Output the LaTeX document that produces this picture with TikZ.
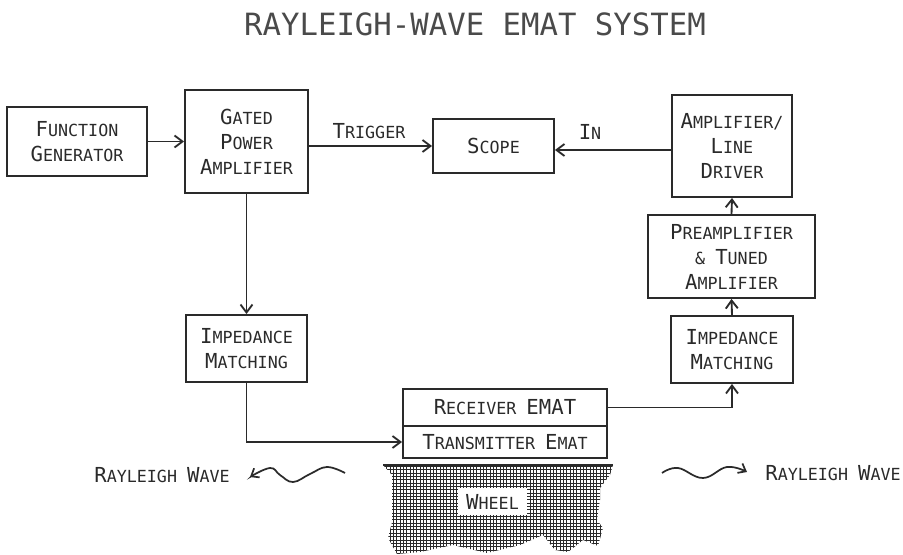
\documentclass[tikz,border=0pt]{standalone}
\usepackage{fontspec}
\setmainfont{DejaVu Sans Mono}
\usetikzlibrary{arrows.meta}
\definecolor{ink}{HTML}{2A2A2A}
\newcommand\B[1]{{\fontsize{15.5}{18.75}\selectfont #1}}
\begin{document}
\begin{tikzpicture}[x=0.75pt,y=-0.75pt,
  every node/.style={text=ink},
  lbl/.style={font=\fontsize{12.5}{18.75}\selectfont, align=center, inner sep=0pt},
  box/.style={lbl, draw=ink, line width=1.4pt},
  arr/.style={draw=ink, line width=1.4pt, -{Straight Barb[length=6pt,width=9pt,line width=1.4pt]}},
  wave/.style={draw=ink, line width=1.3pt, -{Straight Barb[length=5pt,width=8pt,line width=1.3pt]}}]
\useasboundingbox (0,0) rectangle (903,555);

\node[font=\fontsize{23}{26}\selectfont, text=ink!85, inner sep=0pt] (title) at (475,24) {RAYLEIGH-WAVE EMAT SYSTEM};

\node[box, minimum width=105pt, minimum height=51.75pt] (fg) at (77,141.5) {\B{F}UNCTION\\\B{G}ENERATOR};
\node[box, minimum width=92.25pt, minimum height=77.25pt] (gpa) at (246.5,141.5) {\B{G}ATED\\\B{P}OWER\\\B{A}MPLIFIER};
\node[box, minimum width=90.75pt, minimum height=40.5pt] (scope) at (493.5,146) {\B{S}COPE};
\node[box, minimum width=90pt, minimum height=76.5pt] (ld) at (732,146) {\B{A}MPLIFIER/\\\B{L}INE\\\B{D}RIVER};
\node[box, minimum width=125.25pt, minimum height=62.25pt] (pre) at (731.5,256.5) {\B{P}REAMPLIFIER\\\& \B{T}UNED\\\B{A}MPLIFIER};
\node[box, minimum width=91.5pt, minimum height=50.25pt] (imr) at (732,349.5) {\B{I}MPEDANCE\\\B{M}ATCHING};
\node[box, minimum width=90.75pt, minimum height=50.25pt] (iml) at (246.5,348.5) {\B{I}MPEDANCE\\\B{M}ATCHING};
\node[box, minimum width=153pt, minimum height=27.75pt] (rcv) at (505,407.5) {\B{R}ECEIVER \B{EMAT}};
\node[box, minimum width=153pt, minimum height=24pt] (tx) at (505,442) {\B{T}RANSMITTER \B{E}MAT};

% wheel
\begin{scope}
\clip (383,465) -- (613,465) -- (610,475) -- (600,488) -- (600,500) -- (597,520) -- (603,528) -- (598,546) -- (583,540) -- (568,552) -- (555,550) -- (543,535) -- (520,545) -- (487,553) -- (453,545) -- (420,552) -- (397,554) -- (388,538) -- (392,522) -- (392,475) -- cycle;
\draw[ink, line width=0.75pt, step=2.5pt] (380,462) grid (616,558);
\end{scope}
\draw[ink, line width=1.3pt] (383,465) -- (613,465);
\node[lbl, fill=white, minimum width=51.75pt, minimum height=20.25pt] (wheel) at (492.5,501.5) {\B{W}HEEL};

% connectors
\draw[arr] (fg.east) -- (gpa.west);
\draw[arr] (gpa.east |- scope.west) -- (scope.west);
\draw[arr] ([yshift=-3pt]ld.west) -- ([yshift=-3pt]scope.east);
\draw[arr] (gpa.south) -- (iml.north);
\draw[arr] (iml.south) |- (tx.west);
\draw[arr] (rcv.east) -| (imr.south);
\draw[arr] (imr.north) -- (pre.south);
\draw[arr] (pre.north) -- (ld.south);

\node[lbl] (trig) at (369,131) {\B{T}RIGGER};
\node[lbl] (in) at (590,132) {\B{I}N};

% Rayleigh waves
\node[lbl] (rwl) at (162,475) {\B{R}AYLEIGH \B{W}AVE};
\node[lbl] (rwr) at (833,473) {\B{R}AYLEIGH \B{W}AVE};
\draw[wave] plot[smooth, tension=0.7] coordinates {(345,473) (327,467) (310,474) (293,482) (280,475) (270,468) (250,477)};
\draw[wave] plot[smooth, tension=0.7] coordinates {(662,473) (678,468) (703,478) (727,467) (747,472)};
\end{tikzpicture}
\end{document}
